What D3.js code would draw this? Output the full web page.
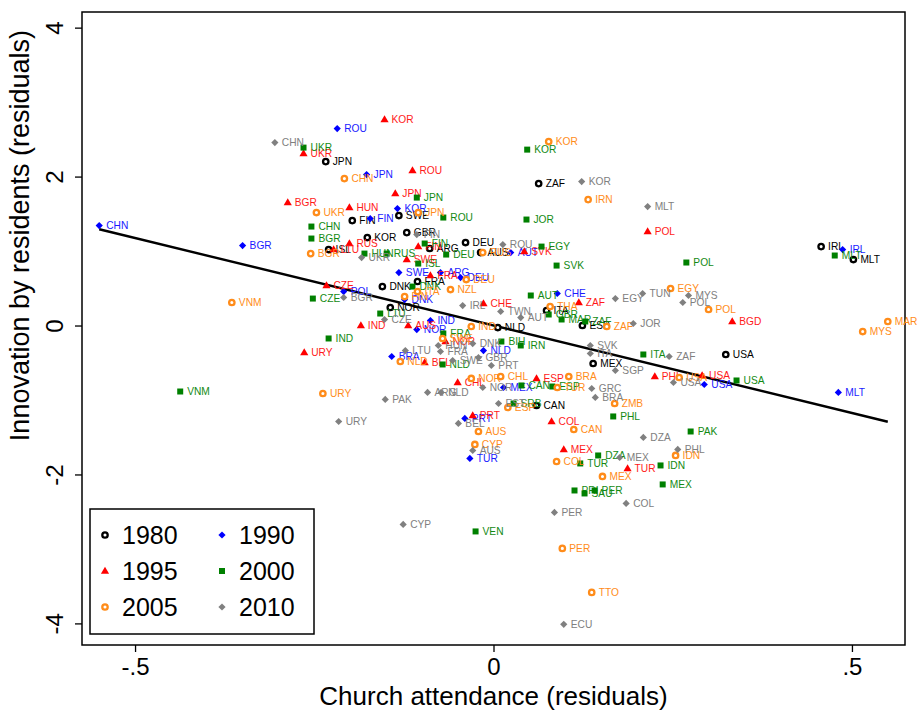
<!DOCTYPE html>
<html><head><meta charset="utf-8">
<script src="https://cdn.jsdelivr.net/npm/d3@7"></script>
<style>
body{margin:0;background:#fff}
svg{display:block}
text{font-family:"Liberation Sans",Arial,Helvetica,sans-serif}
</style>
</head><body>
<svg id="chart" width="921" height="715"></svg>
<script>
// Residualised church attendance (x) vs residualised resident innovation (y), by survey wave.
// Each row: [country code, church attendance residual, innovation residual]
const wave1980 = [
  ["JPN",-0.234,2.201],["FIN",-0.197,1.409],["SWE",-0.132,1.477],["KOR",-0.176,1.181],
  ["GBR",-0.121,1.248],["ISL",-0.230,1.020],["ARG",-0.089,1.034],["DEU",-0.039,1.114],
  ["AUS",-0.018,0.980],["ZAF",0.063,1.906],["IRL",0.457,1.060],["MLT",0.502,0.886],
  ["DNK",-0.155,0.523],["NOR",-0.144,0.242],["ITA",0.074,0.201],["ESP",0.124,0.000],
  ["MEX",0.139,-0.510],["USA",0.324,-0.389],["CAN",0.060,-1.074],["NLD",0.006,-0.027],
  ["FRA",-0.106,0.591]
];
const wave1990 = [
  ["ROU",-0.218,2.644],["CHN",-0.550,1.342],["BGR",-0.350,1.074],["JPN",-0.177,2.027],
  ["KOR",-0.134,1.570],["FIN",-0.172,1.436],["AUT",0.024,0.980],["SWE",-0.132,0.711],
  ["POL",-0.209,0.456],["DNK",-0.124,0.349],["BRA",-0.142,-0.416],["NLD",-0.014,-0.336],
  ["CHE",0.089,0.430],["USA",0.294,-0.792],["MLT",0.481,-0.899],["IRL",0.487,1.020],
  ["PRT",-0.040,-1.248],["TUR",-0.033,-1.785],["MEX",0.014,-0.832],["IND",-0.088,0.067],
  ["ARG",-0.074,0.711],["DEU",-0.046,0.644],["NOR",-0.107,-0.054]
];
const wave1995 = [
  ["KOR",-0.152,2.765],["UKR",-0.265,2.309],["ROU",-0.113,2.081],["JPN",-0.137,1.772],
  ["BGR",-0.287,1.651],["HUN",-0.201,1.584],["RUS",-0.201,1.101],["LTU",-0.223,1.020],
  ["FIN",-0.105,1.060],["SWE",-0.121,0.886],["SVK",0.043,0.993],["POL",0.215,1.262],
  ["CZE",-0.233,0.537],["IND",-0.185,0.000],["URY",-0.264,-0.362],["BEL",-0.096,-0.497],
  ["CHL",-0.050,-0.765],["CHE",-0.014,0.295],["ZAF",0.119,0.309],["BGD",0.333,0.054],
  ["ESP",0.060,-0.711],["PHL",0.225,-0.685],["USA",0.291,-0.671],["COL",0.081,-1.289],
  ["MEX",0.098,-1.664],["TUR",0.187,-1.919],["PRT",-0.029,-1.208],["AUS",-0.119,0.000],
  ["FRA",-0.088,0.671],["NOR",-0.067,-0.215]
];
const wave2000 = [
  ["UKR",-0.265,2.389],["KOR",0.047,2.362],["JPN",-0.107,1.718],["ROU",-0.070,1.450],
  ["CHN",-0.254,1.329],["BGR",-0.254,1.168],["JOR",0.046,1.423],["FIN",-0.096,1.101],
  ["HUN",-0.180,0.966],["RUS",-0.149,0.966],["DEU",-0.066,0.953],["EGY",0.067,1.060],
  ["ISL",-0.105,0.832],["SVK",0.088,0.805],["POL",0.269,0.846],["MLT",0.476,0.940],
  ["DNK",-0.113,0.523],["CZE",-0.252,0.362],["LTU",-0.158,0.161],["IND",-0.230,-0.174],
  ["VNM",-0.437,-0.886],["NLD",-0.071,-0.523],["AUT",0.052,0.403],["MAR",0.095,0.081],
  ["ZAF",0.128,0.054],["IRN",0.038,-0.268],["ITA",0.209,-0.389],["USA",0.339,-0.738],
  ["ESP",0.082,-0.819],["CAN",0.039,-0.805],["PHL",0.167,-1.221],["PAK",0.275,-1.423],
  ["DZA",0.146,-1.745],["TUR",0.121,-1.852],["IDN",0.233,-1.879],["MEX",0.236,-2.134],
  ["PRI",0.113,-2.215],["SAU",0.127,-2.255],["PER",0.141,-2.215],["VEN",-0.025,-2.765],
  ["GBR",0.077,0.148],["FRA",-0.070,-0.107],["BIH",0.011,-0.215],["SRB",0.028,-1.047]
];
const wave2005 = [
  ["CHN",-0.208,1.973],["UKR",-0.247,1.517],["JPN",-0.105,1.517],["BGR",-0.255,0.966],
  ["KOR",0.077,2.470],["IRN",0.132,1.691],["RUS",-0.015,0.980],["VNM",-0.365,0.309],
  ["EGY",0.247,0.497],["POL",0.300,0.215],["MAR",0.550,0.054],["MYS",0.515,-0.081],
  ["THA",0.079,0.255],["ZAF",0.158,-0.013],["NLD",-0.130,-0.483],["URY",-0.238,-0.913],
  ["NOR",-0.031,-0.711],["CHL",0.010,-0.685],["BRA",0.105,-0.685],["TUR",0.089,-0.832],
  ["USA",0.259,-0.698],["ZMB",0.169,-1.047],["AUS",-0.021,-1.423],["CYP",-0.026,-1.597],
  ["CAN",0.112,-1.396],["COL",0.088,-1.826],["MEX",0.152,-2.027],["IDN",0.254,-1.745],
  ["PER",0.096,-2.993],["TTO",0.137,-3.584],["ESP",0.020,-1.101],["IND",-0.031,-0.013],
  ["NZL",-0.060,0.483],["DEU",-0.038,0.617],["FIN",-0.124,0.389],["ITA",-0.106,0.456],
  ["SWE",-0.071,-0.174]
];
const wave2010 = [
  ["CHN",-0.305,2.456],["KOR",0.123,1.933],["MLT",0.215,1.597],["ROU",0.013,1.087],
  ["UKR",-0.184,0.913],["FIN",-0.107,1.221],["TUN",0.208,0.430],["MYS",0.272,0.403],
  ["POL",0.264,0.309],["EGY",0.170,0.362],["JOR",0.195,0.027],["BGR",-0.209,0.376],
  ["CZE",-0.152,0.081],["AUT",0.038,0.107],["ZAF",0.245,-0.416],["USA",0.251,-0.765],
  ["SVK",0.135,-0.268],["ITA",0.135,-0.376],["SGP",0.170,-0.604],["GRC",0.137,-0.846],
  ["BRA",0.142,-0.966],["DZA",0.209,-1.503],["PHL",0.257,-1.664],["MEX",0.176,-1.772],
  ["COL",0.185,-2.389],["PER",0.085,-2.510],["ECU",0.098,-4.013],["CYP",-0.126,-2.671],
  ["URY",-0.216,-1.289],["PAK",-0.151,-0.993],["LTU",-0.123,-0.336],["ARG",-0.092,-0.899],
  ["NLD",-0.073,-0.899],["BEL",-0.049,-1.315],["AUS",-0.029,-1.678],["PRT",-0.003,-0.537],
  ["GBR",-0.021,-0.430],["DNK",-0.029,-0.242],["FRA",-0.074,-0.349],["HUN",-0.077,-0.268],
  ["SWE",-0.057,-0.470],["IRL",-0.043,0.268],["TWN",0.010,0.188],["NOR",-0.015,-0.832],
  ["EST",0.007,-1.047]
];

const years = ["1980","1990","1995","2000","2005","2010"];
const xTicks = [-0.5, 0, 0.5];
const xTickLabels = ["-.5", "0", ".5"];
const yTicks = [-4, -2, 0, 2, 4];
const yTickLabels = ["-4", "-2", "0", "2", "4"];
const xTitle = "Church attendance (residuals)";
const yTitle = "Innovation by residents (residuals)";
// Pooled OLS fit of innovation on church attendance
const fitIntercept = 0.0;
const fitSlope = -2.35;

const series = [
  {year: "1980", rows: wave1980, shape: "ring",     color: "#000000", text: "#000000"},
  {year: "1990", rows: wave1990, shape: "diamond",  color: "#0000ff", text: "#1a1aff"},
  {year: "1995", rows: wave1995, shape: "triangle", color: "#ff0000", text: "#ff1a1a"},
  {year: "2000", rows: wave2000, shape: "square",   color: "#008000", text: "#138a13"},
  {year: "2005", rows: wave2005, shape: "ring",     color: "#ff8c1a", text: "#ff8c1a"},
  {year: "2010", rows: wave2010, shape: "diamond",  color: "#808080", text: "#808080"}
];

const svg = d3.select("#chart");
const plot = {left: 82, right: 905, top: 12, bottom: 645};

const x = d3.scaleLinear().domain([-0.574, 0.574]).range([plot.left, plot.right]);
const y = d3.scaleLinear().domain([-4.29, 4.21]).range([plot.bottom, plot.top]);

// marker paths
function markerPath(shape) {
  if (shape === "diamond") return "M0,-3.6L3.6,0L0,3.6L-3.6,0Z";
  if (shape === "triangle") return "M0,-4.3L4.1,2.7L-4.1,2.7Z";
  if (shape === "square") return "M-3,-3H3V3H-3Z";
  return null;
}
function drawMarker(g, shape, color) {
  if (shape === "ring") {
    g.append("circle").attr("r", 2.7).attr("fill", "#fff")
      .attr("stroke", color).attr("stroke-width", 2.3);
  } else {
    g.append("path").attr("d", markerPath(shape)).attr("fill", color);
  }
}

// plot frame
svg.append("rect")
  .attr("x", plot.left).attr("y", plot.top)
  .attr("width", plot.right - plot.left).attr("height", plot.bottom - plot.top)
  .attr("fill", "none").attr("stroke", "#000").attr("stroke-width", 1.5);

// x axis
const xAxis = d3.axisBottom(x).tickValues(xTicks)
  .tickFormat((d, i) => xTickLabels[i]).tickSize(7).tickPadding(6);
const gx = svg.append("g").attr("transform", `translate(0,${plot.bottom})`).call(xAxis);
gx.select(".domain").remove();
gx.selectAll("line").attr("stroke", "#000").attr("stroke-width", 1.3);
gx.selectAll("text").attr("font-size", 24).attr("fill", "#000")
  .attr("font-family", '"Liberation Sans",Arial,sans-serif');

// y axis with rotated labels
const yAxis = d3.axisLeft(y).tickValues(yTicks)
  .tickFormat((d, i) => yTickLabels[i]).tickSize(7).tickPadding(4);
const gy = svg.append("g").attr("transform", `translate(${plot.left},0)`).call(yAxis);
gy.select(".domain").remove();
gy.selectAll("line").attr("stroke", "#000").attr("stroke-width", 1.3);
gy.selectAll("text")
  .attr("font-size", 24).attr("fill", "#000")
  .attr("font-family", '"Liberation Sans",Arial,sans-serif')
  .attr("x", null).attr("dy", null)
  .attr("text-anchor", "middle")
  .attr("transform", "translate(-27,0) rotate(-90)")
  .attr("dy", "0.35em");

// axis titles
svg.append("text").attr("x", (plot.left + plot.right) / 2).attr("y", 705)
  .attr("text-anchor", "middle").attr("font-size", 26).text(xTitle);
svg.append("text")
  .attr("transform", `translate(29,${y(0) - 90}) rotate(-90)`)
  .attr("text-anchor", "middle").attr("font-size", 27).text(yTitle);

// fitted line across the observed range
const allX = series.flatMap(s => s.rows.map(r => r[1]));
const xMin = d3.min(allX), xMax = d3.max(allX);
svg.append("line")
  .attr("x1", x(xMin)).attr("y1", y(fitIntercept + fitSlope * xMin))
  .attr("x2", x(xMax)).attr("y2", y(fitIntercept + fitSlope * xMax))
  .attr("stroke", "#000").attr("stroke-width", 2.4);

// points with country labels
series.forEach(s => {
  const g = svg.append("g").attr("class", "wave-" + s.year);
  s.rows.forEach(r => {
    const pt = g.append("g").attr("transform", `translate(${x(r[1])},${y(r[2])})`);
    drawMarker(pt, s.shape, s.color);
    pt.append("text").attr("x", 7).attr("dy", "0.36em")
      .attr("font-size", 10.2).attr("fill", s.text).text(r[0]);
  });
});

// legend
const legend = svg.append("g");
legend.append("rect").attr("x", 90).attr("y", 509).attr("width", 224).attr("height", 125)
  .attr("fill", "#fff").attr("stroke", "#000").attr("stroke-width", 1.5);
const legendCols = [105, 222];
const legendRows = [535, 571, 607];
series.forEach((s, i) => {
  const cx = legendCols[i % 2], cy = legendRows[Math.floor(i / 2)];
  const g = legend.append("g").attr("transform", `translate(${cx},${cy})`);
  drawMarker(g, s.shape, s.color);
  g.append("text").attr("x", 17).attr("dy", "0.36em").attr("font-size", 25)
    .attr("fill", "#000").text(s.year);
});
</script>
</body></html>
